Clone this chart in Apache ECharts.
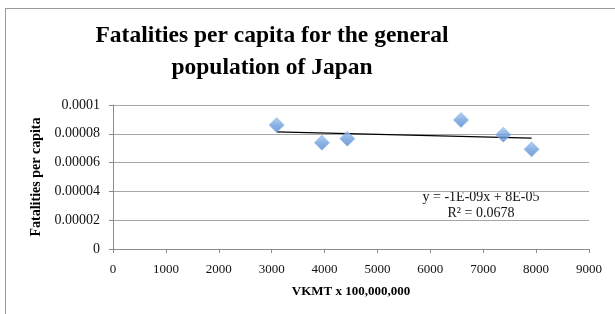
<!DOCTYPE html>
<html>
<head>
<meta charset="utf-8">
<script src="https://cdn.jsdelivr.net/npm/echarts@6/dist/echarts.min.js"></script>
<style>
  html, body { margin: 0; padding: 0; background: #fff; }
  #frame { position: absolute; left: 5px; top: 8px; width: 640px; height: 340px;
           border-left: 1px solid #9a9a9a; border-top: 1px solid #9a9a9a; }
  #chart { position: absolute; left: 0; top: 0; width: 615px; height: 314px; }
</style>
</head>
<body>
<div id="frame"></div>
<div id="chart"></div>
<script>
// VKMT (x 100,000,000) against fatalities per capita
const vkmt = [3095, 3950, 4430, 6580, 7380, 7915];
const fatalities = [0.0000861, 0.0000738, 0.0000766, 0.0000896, 0.0000794, 0.0000692];
const xTicks = [0, 1000, 2000, 3000, 4000, 5000, 6000, 7000, 8000, 9000];
const yTicks = [0, 0.00002, 0.00004, 0.00006, 0.00008, 0.0001];
const equationText = 'y = -1E-09x + 8E-05';
const r2Text = 'R² = 0.0678';

// least squares trendline over the data range
const n = vkmt.length;
const mx = vkmt.reduce((a, b) => a + b, 0) / n;
const my = fatalities.reduce((a, b) => a + b, 0) / n;
let sxy = 0, sxx = 0;
for (let i = 0; i < n; i++) {
  sxy += (vkmt[i] - mx) * (fatalities[i] - my);
  sxx += (vkmt[i] - mx) * (vkmt[i] - mx);
}
const slope = sxy / sxx;
const intercept = my - slope * mx;
const xMinData = Math.min(...vkmt), xMaxData = Math.max(...vkmt);
const trend = [[xMinData, intercept + slope * xMinData], [xMaxData, intercept + slope * xMaxData]];

const serif = '"Liberation Serif", "DejaVu Serif", serif';
const myChart = echarts.init(document.getElementById('chart'));
myChart.setOption({
  animation: false,
  title: {
    text: 'Fatalities per capita for the general\npopulation of Japan',
    left: 267,
    textAlign: 'center',
    top: 15,
    textStyle: { fontFamily: serif, fontWeight: 'bold', fontSize: 23.5, lineHeight: 32, color: '#000' }
  },
  grid: { left: 113, right: 26, top: 105, bottom: 65 },
  xAxis: {
    type: 'value',
    min: xTicks[0],
    max: xTicks[xTicks.length - 1],
    interval: 1000,
    name: 'VKMT x 100,000,000',
    nameLocation: 'middle',
    nameGap: 36,
    nameTextStyle: { fontFamily: serif, fontWeight: 'bold', fontSize: 13, color: '#000' },
    axisLine: { lineStyle: { color: '#8c8c8c' } },
    axisTick: { show: true, length: 4, lineStyle: { color: '#8c8c8c' } },
    axisLabel: { fontFamily: serif, fontSize: 13, color: '#111', margin: 14, formatter: v => String(v) },
    splitLine: { show: false }
  },
  yAxis: {
    type: 'value',
    min: yTicks[0],
    max: yTicks[yTicks.length - 1],
    interval: 0.00002,
    name: 'Fatalities per capita',
    nameLocation: 'middle',
    nameGap: 70,
    nameTextStyle: { fontFamily: serif, fontWeight: 'bold', fontSize: 14, color: '#000' },
    axisLine: { show: true, lineStyle: { color: '#8c8c8c' } },
    axisTick: { show: true, length: 4, lineStyle: { color: '#8c8c8c' } },
    axisLabel: {
      fontFamily: serif, fontSize: 14, color: '#111', margin: 13,
      formatter: v => v === 0 ? '0' : v.toFixed(5).replace(/0+$/, '')
    },
    splitLine: { lineStyle: { color: '#a6a6a6', width: 1 } }
  },
  series: [
    {
      type: 'line',
      data: trend,
      symbol: 'none',
      lineStyle: { color: '#000', width: 1.3 },
      z: 2
    },
    {
      type: 'scatter',
      data: vkmt.map((x, i) => [x, fatalities[i]]),
      symbol: 'diamond',
      symbolSize: [15, 15],
      itemStyle: {
        color: new echarts.graphic.LinearGradient(0, 0, 0, 1, [
          { offset: 0, color: '#a9c8f0' },
          { offset: 0.5, color: '#6f9fdc' },
          { offset: 1, color: '#4f86cf' }
        ]),
        borderColor: '#8db4e6',
        borderWidth: 0.8
      },
      z: 3
    }
  ],
  graphic: [
    {
      type: 'text',
      x: 481, y: 190,
      style: { text: equationText, fontFamily: serif, fontSize: 14, fill: '#111', align: 'center' }
    },
    {
      type: 'text',
      x: 481, y: 206,
      style: { text: r2Text, fontFamily: serif, fontSize: 14, fill: '#111', align: 'center' }
    }
  ]
});
</script>
</body>
</html>
